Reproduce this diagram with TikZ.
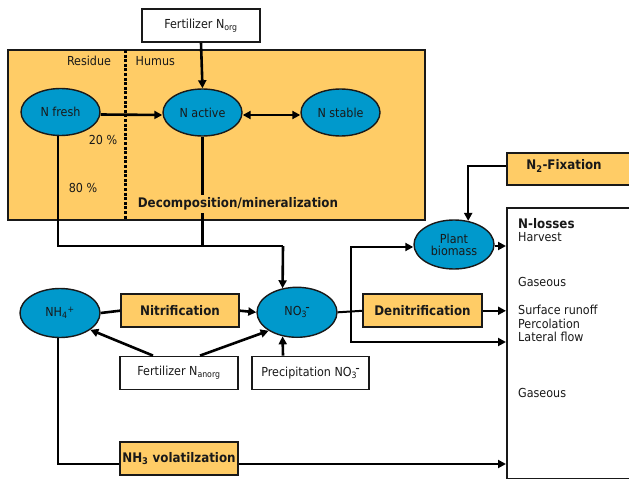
\documentclass[tikz,border=0pt]{standalone}
\usepackage{fontspec}
\setmainfont{DejaVu Sans Condensed}
\usetikzlibrary{arrows.meta,calc,shapes.geometric}
\definecolor{orng}{RGB}{255,204,102}
\definecolor{blu}{RGB}{0,153,204}
\definecolor{ink}{RGB}{25,25,25}
\newcommand{\nothree}{NO\textsubscript{3}\kern-1.5pt\raisebox{0.8ex}{\fontsize{9}{9}\selectfont\bfseries –}}
\tikzset{
  every node/.style={font=\fontsize{12.4}{14}\selectfont, text=ink},
  pool/.style={ellipse, draw=ink, line width=1.4pt, fill=blu, minimum width=79pt, minimum height=47pt, inner sep=0pt, align=center},
  obox/.style={rectangle, draw=ink, line width=1.8pt, fill=orng, minimum width=118pt, minimum height=33pt, inner sep=0pt, font=\fontsize{13.2}{15}\selectfont\bfseries},
  wbox/.style={rectangle, draw=ink, line width=1.8pt, fill=white, minimum width=118pt, minimum height=33pt, inner sep=0pt},
  conn/.style={draw=black, line width=2.6pt},
  arr/.style={conn, -{Triangle[length=8pt,width=8pt]}},
  barr/.style={conn, {Triangle[length=8pt,width=8pt]}-{Triangle[length=8pt,width=8pt]}},
  lbl/.style={inner sep=0pt},
  boldlbl/.style={inner sep=0pt, font=\fontsize{13.2}{15}\selectfont\bfseries},
}
\begin{document}
\begin{tikzpicture}[x=1pt,y=-1pt]
\clip (0,0) rectangle (629,479);
\fill[white] (0,0) rectangle (629,479);

% organic pool box
\node[rectangle, draw=ink, line width=1.8pt, fill=orng, minimum width=417pt, minimum height=170pt, inner sep=0pt] (orgbox) at (216.5,135) {};
\coordinate (dtop) at (125.5,50);
\coordinate (dbot) at (125.5,220);
\draw[black, line width=2.2pt, dash pattern=on 3pt off 1.6pt] (dtop) -- (dbot);
\node[lbl] (residue) at (89,60.5) {Residue};
\node[lbl, anchor=west] (humus) at (135.5,61) {Humus};

\node[wbox] (fertorg) at (201,25.5) {Fertilizer N\textsubscript{org}};

\node[pool] (nfresh) at (60.5,112) {N fresh};
\node[pool] (nactive) at (202.5,112.5) {N active};
\node[pool] (nstable) at (340.5,112.5) {N stable};

\node[lbl] (p20) at (103,140) {20 \%};
\node[lbl] (p80) at (83,188) {80 \%};

% lower pools and boxes
\node[pool, minimum height=49pt, minimum width=80pt] (nh4) at (60,313) {NH\textsubscript{4}\textsuperscript{+}};
\node[pool, minimum height=50pt, minimum width=80pt] (no3) at (297,312.3) {\nothree};
\node[obox] (nitri) at (180,310.7) {Nitrification};
\node[wbox] (fertan) at (179,373) {Fertilizer N\textsubscript{anorg}};
\node[wbox, minimum width=117pt] (precip) at (310.5,373) {Precipitation \nothree};
\node[obox] (nh3) at (179,458.5) {NH\textsubscript{3} volatilzation};
\node[obox, minimum width=119pt] (denit) at (422.5,310.8) {Denitrification};
\node[pool, minimum height=49pt, minimum width=80pt] (plant) at (454,244.5) {Plant\\[-2pt]biomass};

% right side boxes
\node[rectangle, draw=ink, line width=1.8pt, fill=orng, anchor=north west, minimum width=160pt, minimum height=32pt, inner sep=0pt] (n2fix) at (506,152.3) {};
\node[boldlbl] (n2lbl) at (564,166) {N\textsubscript{2}-Fixation};
\node[rectangle, draw=ink, line width=1.8pt, fill=white, anchor=north west, minimum width=160pt, minimum height=271pt, inner sep=0pt] (losses) at (506,207) {};
\node[boldlbl, anchor=west] (tloss) at (518,223.5) {N-losses};
\node[lbl, anchor=west] (tharv) at (518,237.5) {Harvest};
\node[lbl, anchor=west] (tgas1) at (518,282) {Gaseous};
\node[lbl, anchor=west] (tsurf) at (518,310) {Surface runoff};
\node[lbl, anchor=west] (tperc) at (518,323.5) {Percolation};
\node[lbl, anchor=west] (tlat) at (518,337.3) {Lateral flow};
\node[lbl, anchor=west] (tgas2) at (518,392.7) {Gaseous};

% connectors in organic box
\draw[arr] (fertorg.south) -- (nactive.north);
\draw[arr] ([yshift=-2.5pt]nfresh.east) -- ([yshift=-2.5pt]nactive.west);
\draw[barr] ([yshift=-2.5pt]nactive.east) -- ([yshift=-2.5pt]nstable.west);

\coordinate (jl) at (58,246);
\coordinate (jr) at (283,246);
\draw[conn] (nfresh.south -| jl) -- (jl) -- (jr);
\draw[conn] (nactive.south) -- (nactive.south |- jr);
\draw[arr] (jr) -- (no3.121);
\node[boldlbl, fill=orng, inner xsep=1pt, inner ysep=3pt] (decomp) at (238,204) {Decomposition/mineralization};

% mineral N
\draw[conn] (nh4.east) -- (nitri.west);
\draw[arr] (nitri.east) -- (no3.west);
\draw[arr] ([xshift=-26pt]fertan.north) -- (nh4.-29);
\draw[arr] ([xshift=21pt]fertan.north) -- (no3.213);
\draw[arr] ([xshift=-27.5pt]precip.north) -- (no3.239);

\coordinate (jn) at (58,464);
\draw[conn] (nh4.south -| jn) -- (jn) -- (jn -| nh3.west);
\draw[arr] (jn -| nh3.east) -- (jn -| losses.west);

\draw[conn, line width=2pt] (no3.east) -- (denit.west);
\draw[arr] (denit.east) -- (denit.east -| losses.west);

\coordinate (bt) at (351,247);
\coordinate (bb) at (351,342);
\draw[arr] (bb) |- (plant.west |- bt);
\draw[arr] (bt) |- (losses.west |- bb);
\draw[arr] ([yshift=-1.5pt]plant.east) -- ([yshift=-1.5pt]plant.east -| losses.west);
\draw[arr] (n2fix.west |- n2lbl) -| (plant.59);
\end{tikzpicture}
\end{document}
